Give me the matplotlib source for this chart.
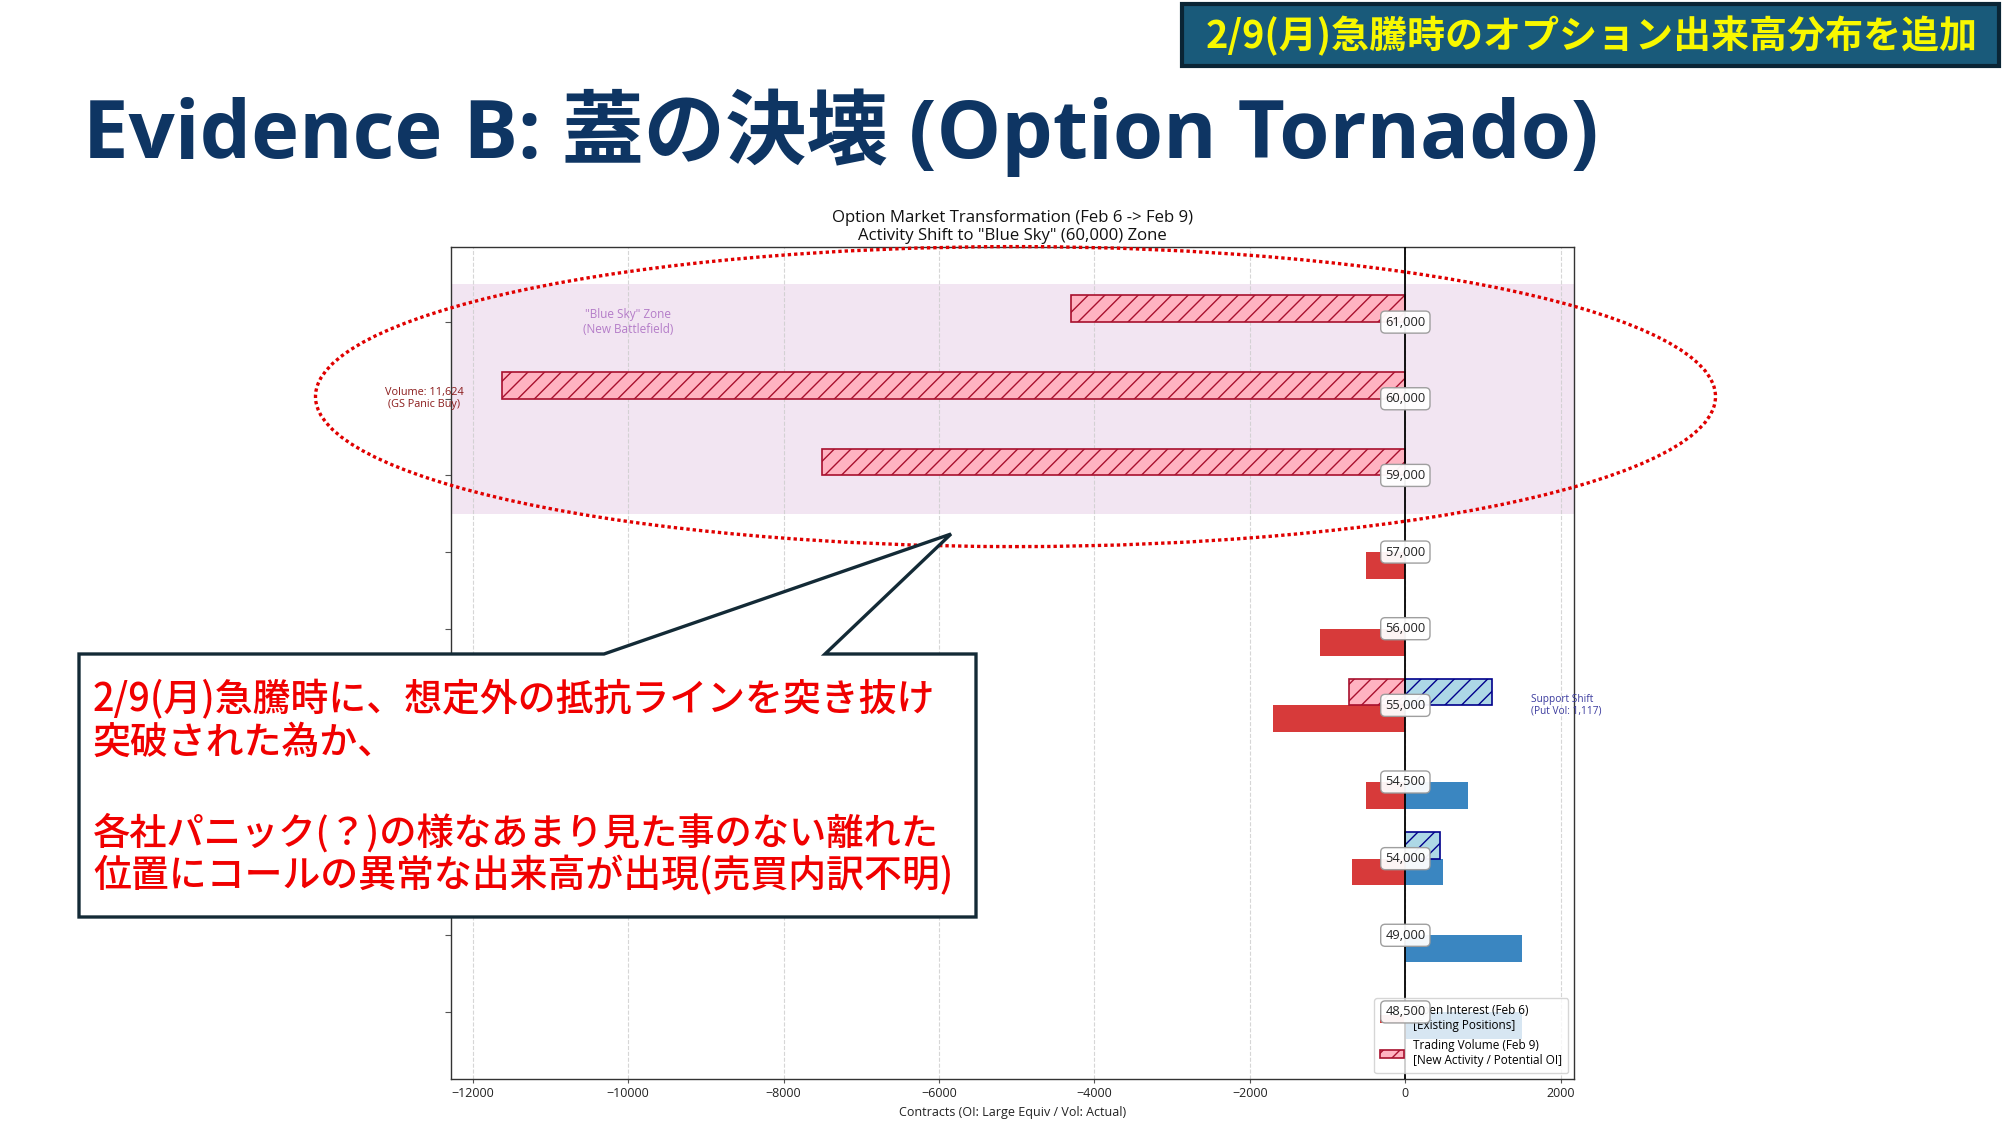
import matplotlib
matplotlib.use("Agg")
import matplotlib.pyplot as plt
from matplotlib.patches import Ellipse, Polygon, Rectangle
import numpy as np

# ---------------- data ----------------
strikes = [48500, 49000, 54000, 54500, 55000, 56000, 57000, 59000, 60000, 61000]
call_oi = [0, 0, 690, 500, 1700, 1100, 510, 0, 0, 0]
put_oi = [1500, 1500, 490, 800, 0, 0, 0, 0, 0, 0]
call_vol = [0, 0, 0, 0, 730, 0, 0, 7500, 11624, 4300]
put_vol = [0, 0, 440, 0, 1117, 0, 0, 0, 0, 0]
xticks = [-12000, -10000, -8000, -6000, -4000, -2000, 0, 2000]

chart_title = 'Option Market Transformation (Feb 6 -> Feb 9)\nActivity Shift to "Blue Sky" (60,000) Zone'
xlabel = "Contracts (OI: Large Equiv / Vol: Actual)"
legend_labels = ["Open Interest (Feb 6)\n[Existing Positions]",
                 "Trading Volume (Feb 9)\n[New Activity / Potential OI]"]
slide_title = "Evidence B: 蓋の決壊 (Option Tornado)"
badge_text = "2/9(月)急騰時のオプション出来高分布を追加"
callout_lines = ["2/9(月)急騰時に、想定外の抵抗ラインを突き抜け",
                 "突破された為か、",
                 "各社パニック(？)の様なあまり見た事のない離れた",
                 "位置にコールの異常な出来高が出現(売買内訳不明)"]

# ---------------- style ----------------
RED = "#d73a3a"
BLUE = "#3a86c1"
PINK = "#ffb3c1"
PINK_EDGE = "#a8102e"
LBLUE = "#add8e6"
LBLUE_EDGE = "#00008b"
NAVY = "#0e3563"
CHART_FONT = ["Open Sans", "DejaVu Sans"]
JP_FONT = ["Noto Sans CJK JP", "DejaVu Sans"]
plt.rcParams["font.family"] = CHART_FONT
plt.rcParams["hatch.linewidth"] = 1.0

W, H = 2003, 1128
fig = plt.figure(figsize=(W / 100, H / 100), dpi=100)


def fx(px):
    return px / W


def fy(py):
    return 1 - py / H


ax = fig.add_axes([fx(451), fy(1079), (1574 - 451) / W, (1079 - 247) / H])

y = np.arange(len(strikes))
h = 0.35
c_oi = -np.array(call_oi, float)
p_oi = np.array(put_oi, float)
c_vol = -np.array(call_vol, float)
p_vol = np.array(put_vol, float)

ax.axhspan(6.5, 9.5, color="purple", alpha=0.1, lw=0, zorder=0)

m = c_oi != 0
oi_h = ax.barh(y[m] - h / 2, c_oi[m], height=h, color=RED, zorder=2)
m = p_oi != 0
ax.barh(y[m] - h / 2, p_oi[m], height=h, color=BLUE, zorder=2)
m = c_vol != 0
vol_h = ax.barh(y[m] + h / 2, c_vol[m], height=h, color=PINK, edgecolor=PINK_EDGE,
                hatch="//", lw=1.2, zorder=2)
m = p_vol != 0
ax.barh(y[m] + h / 2, p_vol[m], height=h, color=LBLUE, edgecolor=LBLUE_EDGE,
        hatch="//", lw=1.2, zorder=2)

ax.axvline(0, color="black", lw=1.3, zorder=3)

for yi, s in zip(y, strikes):
    ax.text(0, yi, f"{s:,}", ha="center", va="center", fontsize=9.3, color="#222222",
            zorder=8,
            bbox=dict(boxstyle="round,pad=0.35", fc="white", ec="#9a9a9a", lw=1.0, alpha=0.95))

ax.set_xlim(-12280, 2170)
ax.set_ylim(-0.875, 9.98)
ax.set_xticks(xticks)
ax.set_xticklabels([str(v).replace("-", "\u2212") for v in xticks], fontsize=9, color="#222222")
ax.set_yticks(y)
ax.set_yticklabels([])
ax.tick_params(axis="y", length=4, color="#555555")
ax.tick_params(axis="x", length=3, color="#555555", pad=3)
ax.grid(axis="x", linestyle="--", color="#cccccc", lw=0.8, alpha=0.8, zorder=0)
ax.set_axisbelow(True)
for sp in ax.spines.values():
    sp.set_color("#333333")
    sp.set_linewidth(1.0)

ax.set_xlabel(xlabel, fontsize=9, labelpad=4, color="#222222")
ttl = ax.set_title(chart_title, fontsize=11, pad=5, color="#111111", linespacing=1.15)

ax.text(-10000, 9.0, '"Blue Sky" Zone\n(New Battlefield)', ha="center", va="center",
        fontsize=8.5, color="#b47cc8", linespacing=1.15, zorder=4)
ax.text(-11624 - 1000, 8.0, "Volume: 11,624\n(GS Panic Buy)", ha="center", va="center",
        fontsize=7.8, color="#8b1c1c", linespacing=1.15, zorder=4, clip_on=False)
ax.text(1117 + 500, 4.0, "Support Shift\n(Put Vol: 1,117)", ha="left", va="center",
        fontsize=7.3, color="#3b3b9e", linespacing=1.1, zorder=4)

leg = ax.legend([oi_h, vol_h], legend_labels, loc="lower right", fontsize=8.5,
                framealpha=0.8, handlelength=2.0, borderpad=0.5, labelspacing=0.6)
leg.set_zorder(6)

# ---------------- slide overlays ----------------
ell = Ellipse((fx(1015.5), fy(396.6)), width=1400 / W, height=300 / H,
              transform=fig.transFigure, fill=False, ec="#e00000", lw=2.4,
              ls=(0, (1, 0.9)), zorder=10)
fig.add_artist(ell)

pts = [(79, 654), (604, 654), (951, 534), (825, 654), (976, 654), (976, 917), (79, 917)]
callout = Polygon([(fx(a), fy(b)) for a, b in pts], closed=True, transform=fig.transFigure,
                  fc="white", ec="#132a36", lw=2.4, joinstyle="miter", zorder=11)
fig.add_artist(callout)

badge = Rectangle((fx(1182), fy(66)), (1999 - 1182) / W, (66 - 4) / H,
                  transform=fig.transFigure, fc="#195a7a", ec="#0a2535", lw=3, zorder=11)
fig.add_artist(badge)

t_badge = fig.text(fx(1592), fy(36), badge_text, ha="center", va="center", fontsize=28,
                   color="#f8f800", family=JP_FONT, weight="bold", zorder=12)
t_title = fig.text(fx(83), fy(158), slide_title, ha="left", va="baseline", fontsize=60,
                   color=NAVY, family=["Open Sans", "Noto Sans CJK JP"], weight="bold", zorder=12)

line_y = [700, 743, 833, 876]
t_lines = []
for ln, ly in zip(callout_lines, line_y):
    t_lines.append(fig.text(fx(93), fy(ly), ln, ha="left", va="center", fontsize=24,
                            color="#f00000", family=JP_FONT, weight="medium", zorder=12))

# fit text widths to the reference
fig.canvas.draw()
r = fig.canvas.get_renderer()


def fit_width(t, target):
    for _ in range(3):
        w = t.get_window_extent(r).width
        t.set_fontsize(t.get_fontsize() * target / w)


fit_width(t_badge, 772)
fit_width(t_title, 1517)
fit_width(ttl, 363)
fit_width(t_lines[0], 845)
fs = t_lines[0].get_fontsize()
for t in t_lines[1:]:
    t.set_fontsize(fs)
if t_lines[2].get_window_extent(r).width > 846:
    fit_width(t_lines[2], 846)

fig.savefig("out.png", dpi=100)
